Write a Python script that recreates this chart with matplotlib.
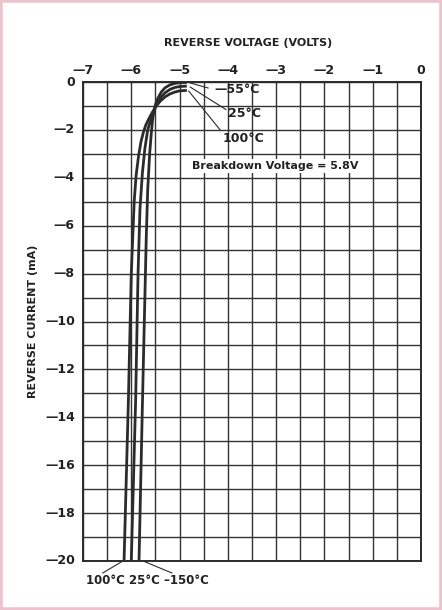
import matplotlib.pyplot as plt
from matplotlib.patches import Rectangle

# reverse voltage (V) / reverse current (mA)
v_m55 = [-4.85, -5.0, -5.1, -5.2, -5.3, -5.38, -5.45, -5.5, -5.53, -5.56, -5.58,
         -5.62, -5.66, -5.69, -5.73, -5.77, -5.84]
i_m55 = [-0.02, -0.03, -0.06, -0.12, -0.24, -0.42, -0.68, -0.95, -1.2, -1.6, -2.0,
         -3.0, -4.5, -6.5, -10.0, -13.5, -20.0]

v_25 = [-4.85, -5.0, -5.1, -5.2, -5.3, -5.38, -5.45, -5.5, -5.55, -5.6, -5.66,
        -5.72, -5.77, -5.82, -5.86, -5.91, -6.0]
i_25 = [-0.17, -0.19, -0.23, -0.31, -0.45, -0.62, -0.84, -1.05, -1.3, -1.6, -2.0,
        -2.8, -3.8, -5.3, -8.0, -13.3, -20.0]

v_100 = [-4.85, -5.0, -5.1, -5.2, -5.3, -5.4, -5.48, -5.56, -5.64, -5.7, -5.75,
         -5.8, -5.85, -5.9, -5.94, -5.97, -6.0, -6.06, -6.15]
i_100 = [-0.35, -0.37, -0.42, -0.5, -0.62, -0.8, -1.0, -1.25, -1.55, -1.8, -2.1,
         -2.5, -3.1, -3.9, -5.0, -6.5, -8.0, -13.3, -20.0]

x_ticks = [-7, -6, -5, -4, -3, -2, -1, 0]
y_ticks = [0, -2, -4, -6, -8, -10, -12, -14, -16, -18, -20]

fig = plt.figure(figsize=(4.42, 6.10), dpi=100)
fig.patches.append(Rectangle((0, 0), 1, 1, transform=fig.transFigure,
                             fill=False, edgecolor='#ecc3cc', linewidth=4))
ax = fig.add_axes([83 / 442, 1 - 561 / 610, 338 / 442, 479 / 610])

ink = '#2b2b2b'
for v, i in [(v_m55, i_m55), (v_25, i_25), (v_100, i_100)]:
    ax.plot(v, i, color=ink, lw=2.0, solid_capstyle='butt', zorder=3)

ax.set_xlim(-7, 0)
ax.set_ylim(-20, 0)
ax.set_xticks([x / 2 for x in range(-14, 1)])
ax.set_yticks(range(-20, 1))
ax.grid(True, color='#333333', lw=1.0)
ax.tick_params(length=0, labelbottom=False, labeltop=False, labelleft=False)
for s in ax.spines.values():
    s.set_color(ink)
    s.set_linewidth(1.4)

def lab(n):
    return str(n).replace('-', '\u2014')

font = dict(fontsize=9, fontweight='bold', color='#222222')
for x in x_ticks:
    ax.text(x, 0.5, lab(x), ha='center', va='center', **font)
for y in y_ticks:
    ax.text(-7.17, y, lab(y), ha='right', va='center', **font)

fig.text(248 / 442, 1 - 43 / 610, 'REVERSE VOLTAGE (VOLTS)', ha='center', va='center',
         fontsize=8, fontweight='bold', color='#222222')
fig.text(33 / 442, 1 - 321 / 610, 'REVERSE CURRENT (mA)', ha='center', va='center',
         rotation=90, fontsize=8, fontweight='bold', color='#222222')

# temperature labels with leader lines
lbl = dict(fontsize=9, fontweight='bold', color='#222222', va='center')
ax.text(-4.27, -0.33, '\u201455\u00b0C', **lbl)
ax.text(-4.0, -1.3, '25\u00b0C', **lbl)
ax.text(-4.10, -2.34, '100\u00b0C', **lbl)
ax.plot([-4.78, -4.41], [-0.04, -0.25], color=ink, lw=0.8)
ax.plot([-4.78, -4.04], [-0.21, -1.15], color=ink, lw=0.8)
ax.plot([-4.81, -4.16], [-0.38, -2.0], color=ink, lw=0.8)

ax.text(-4.74, -3.5, 'Breakdown Voltage = 5.8V', fontsize=8, fontweight='bold',
        color='#222222', va='center', bbox=dict(fc='white', ec='none', pad=1.5))

ax.text(-5.66, -20.8, '100\u00b0C 25\u00b0C \u2013150\u00b0C', ha='center', va='center',
        fontsize=8.5, fontweight='bold', color='#222222', clip_on=False)
ax.plot([-6.2, -6.59], [-20.03, -20.5], color=ink, lw=0.8, clip_on=False)
ax.plot([-5.72, -5.16], [-20.03, -20.5], color=ink, lw=0.8, clip_on=False)

fig.savefig('out.png', dpi=100)
